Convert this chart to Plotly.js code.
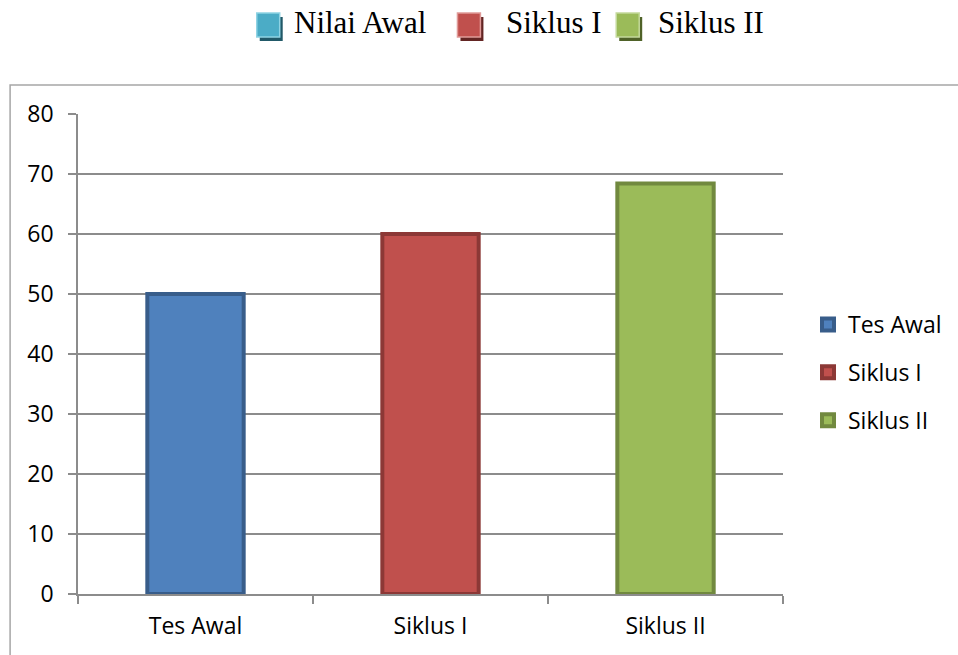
<!DOCTYPE html>
<html>
<head>
<meta charset="utf-8">
<script src="https://cdn.plot.ly/plotly-3.0.1.min.js"></script>
<style>
  html, body { margin: 0; padding: 0; background: #ffffff; }
  #chart { width: 958px; height: 655px; }
</style>
</head>
<body>
<div id="chart"></div>
<script>
// ---- data ----
const categories = ["Tes Awal", "Siklus I", "Siklus II"];
const seriesNames = ["Tes Awal", "Siklus I", "Siklus II"];
const values = [50, 60, 68.4];
const headerLabels = ["Nilai Awal", "Siklus I", "Siklus II"];
const yTicks = [0, 10, 20, 30, 40, 50, 60, 70, 80];

// ---- styles ----
const fills = ["#4f81bd", "#c0504d", "#9bbb59"];
const borders = ["#385d8a", "#8c3836", "#71893f"];
const headerFills = ["#4bacc6", "#c0504d", "#9bbb59"];
const headerEdges = ["#8fd3e4", "#e09a98", "#c3d99a"];
const headerShadows = ["#215968", "#632523", "#4f6228"];

const W = 958, H = 655, mL = 78, mR = 174, mT = 114, mB = 61;
const pw = W - mL - mR, ph = H - mT - mB;
function px(x) { return (x - mL) / pw; }
function py(y) { return (H - mB - y) / ph; }

const traces = categories.map((c, i) => ({
  type: "bar",
  name: seriesNames[i],
  x: [c],
  y: [values[i]],
  legendgroup: "g" + i,
  marker: { color: fills[i], line: { color: borders[i], width: 4 } },
  hoverinfo: "x+y"
}));

const shapes = [
  // outer frame
  { type: "rect", xref: "paper", yref: "paper",
    x0: px(10), x1: px(1100), y0: py(85), y1: py(800),
    line: { color: "#a6a6a6", width: 1.5 }, fillcolor: "rgba(0,0,0,0)", layer: "below" }
];
const annotations = [];
const iconX = [257, 458, 617];
const textX = [292, 505, 657];
headerLabels.forEach((t, i) => {
  shapes.push({ type: "rect", xref: "paper", yref: "paper",
    x0: px(iconX[i] + 3), x1: px(iconX[i] + 26), y0: py(17), y1: py(41),
    line: { width: 0 }, fillcolor: headerShadows[i] });
  shapes.push({ type: "rect", xref: "paper", yref: "paper",
    x0: px(iconX[i]), x1: px(iconX[i] + 23), y0: py(13), y1: py(37),
    line: { width: 1.5, color: headerEdges[i] }, fillcolor: headerFills[i] });
  annotations.push({ xref: "paper", yref: "paper", x: px(textX[i]), y: py(23),
    xanchor: "left", yanchor: "middle", showarrow: false, text: t,
    font: { family: "Liberation Serif, Times New Roman, serif", size: 31, color: "#000000" } });
});

const tickFont = { family: "Open Sans, sans-serif", size: 23, color: "#000000" };

const layout = {
  width: W, height: H,
  margin: { l: mL, r: mR, t: mT, b: mB, pad: 0 },
  paper_bgcolor: "#ffffff", plot_bgcolor: "#ffffff",
  barmode: "overlay",
  bargap: 0.59,
  font: tickFont,
  showlegend: true,
  legend: {
    x: px(808), xanchor: "left", y: py(372.5), yanchor: "middle",
    font: tickFont,
    tracegroupgap: 15, bgcolor: "rgba(0,0,0,0)", borderwidth: 0, valign: "middle"
  },
  xaxis: {
    type: "category", categoryorder: "array", categoryarray: categories,
    showline: true, linecolor: "#8c8c8c", linewidth: 1.5,
    ticks: "outside", tickson: "boundaries", ticklen: 8, tickcolor: "#8c8c8c", tickwidth: 1.5,
    showgrid: false, zeroline: false, ticklabelstandoff: 11,
    tickfont: tickFont
  },
  yaxis: {
    range: [0, 80], tickmode: "array", tickvals: yTicks, ticktext: yTicks.map(String),
    showline: true, linecolor: "#8c8c8c", linewidth: 1.5,
    ticks: "outside", ticklen: 8, tickcolor: "#8c8c8c", tickwidth: 1.5,
    showgrid: true, gridcolor: "#8c8c8c", gridwidth: 1.5, zeroline: false,
    ticklabelstandoff: 10,
    tickfont: tickFont
  },
  shapes: shapes,
  annotations: annotations
};

Plotly.newPlot("chart", traces, layout, { displayModeBar: false, responsive: false });
</script>
</body>
</html>
